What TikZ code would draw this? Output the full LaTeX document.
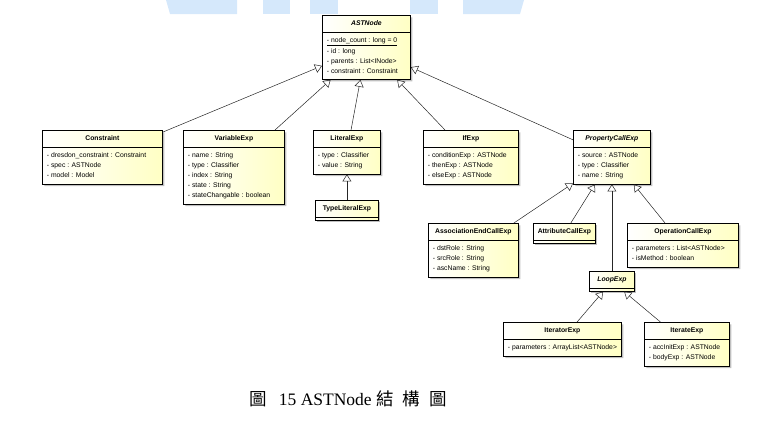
\documentclass[tikz,border=0pt]{standalone}
\usepackage{fontspec}
\setmainfont{Liberation Serif}
\newfontfamily\umlfont{Liberation Sans}
\newfontfamily\cjk{Noto Sans CJK TC}
\usepackage{tikz}
\usetikzlibrary{shapes.multipart, arrows.meta, shadows}
\definecolor{clsfill}{RGB}{255,255,196}
\definecolor{wmblue}{RGB}{213,232,251}
\newcommand\hd[1]{\strut\textbf{#1}}
\newcommand\ahd[1]{\strut\textbf{\textit{#1}}}
\newcommand\fields[1]{\begin{tabular}{@{\hspace{2pt}}l@{}}#1\end{tabular}}
\newcommand\nofields{\rule[-6pt]{0pt}{0pt}}

\begin{document}
\begin{tikzpicture}[x=1pt, y=-1pt,
    cls/.style={rectangle split, rectangle split parts=2, rectangle split part align={center,left},
        draw, line width=0.8pt, anchor=north west, inner xsep=2.5pt, inner ysep=3pt,
        left color=white, right color=clsfill,
        drop shadow={shadow xshift=2pt, shadow yshift=-2pt, fill=black!50, opacity=0.5},
        font=\umlfont\fontsize{6.8}{10}\selectfont},
    clsbare/.style={cls, rectangle split parts=1},
    divider/.style={line width=0.8pt},
    gen/.style={-{Triangle[open, length=7pt, width=9pt]}, line width=0.5pt, draw=black!85}
]
\useasboundingbox (0,0) rectangle (782,424);

\fill[wmblue] (166,0) -- (237,0) -- (237,14) -- (170,14) -- cycle;
\fill[wmblue] (263,0) rectangle (290,14);
\fill[wmblue] (310,0) rectangle (338,14);
\fill[wmblue] (410,0) rectangle (438,14);
\fill[wmblue] (463,0) -- (524,0) -- (520,14) -- (463,14) -- cycle;

\node[cls, minimum width=88pt] (astnode) at (322,15) {\ahd{ASTNode}\nodepart{two}\fields{\underline{- node\_count : long = 0}\\ - id : long\\ - parents : List<INode>\\ - constraint : Constraint}};

\node[cls, minimum width=120pt] (constraint) at (42,130) {\hd{Constraint}\nodepart{two}\fields{- dresdon\_constraint : Constraint\\ - spec : ASTNode\\ - model : Model}};
\node[cls, minimum width=101pt] (variableexp) at (183,130) {\hd{VariableExp}\nodepart{two}\fields{- name : String\\ - type : Classifier\\ - index : String\\ - state : String\\ - stateChangable : boolean}};
\node[cls, minimum width=67pt] (literalexp) at (313,130) {\hd{LiteralExp}\nodepart{two}\fields{- type : Classifier\\ - value : String}};
\node[clsbare, minimum width=63pt] (typeliteralexp) at (315,200) {\hd{TypeLiteralExp}\nofields};
\node[cls, minimum width=95pt] (ifexp) at (423,130) {\hd{IfExp}\nodepart{two}\fields{- conditionExp : ASTNode\\ - thenExp : ASTNode\\ - elseExp : ASTNode}};
\node[cls, minimum width=77pt] (propertycallexp) at (573,130) {\ahd{PropertyCallExp}\nodepart{two}\fields{- source : ASTNode\\ - type : Classifier\\ - name : String}};

\node[cls, minimum width=90pt] (assocendcallexp) at (428,223) {\hd{AssociationEndCallExp}\nodepart{two}\fields{- dstRole : String\\ - srcRole : String\\ - ascName : String}};
\node[clsbare, minimum width=62pt] (attributecallexp) at (533,223) {\hd{AttributeCallExp}\nofields};
\node[cls, minimum width=111pt] (operationcallexp) at (627,223) {\hd{OperationCallExp}\nodepart{two}\fields{- parameters : List<ASTNode>\\ - isMethod : boolean}};
\node[clsbare, minimum width=45pt] (loopexp) at (589,271) {\ahd{LoopExp}\nofields};
\node[cls, minimum width=118pt] (iteratorexp) at (503,322) {\hd{IteratorExp}\nodepart{two}\fields{- parameters : ArrayList<ASTNode>}};
\node[cls, minimum width=85pt] (iterateexp) at (644,322) {\hd{IterateExp}\nodepart{two}\fields{- accInitExp : ASTNode\\ - bodyExp : ASTNode}};

\draw[divider] ([yshift=3pt]typeliteralexp.south west) -- ([yshift=3pt]typeliteralexp.south east);
\draw[divider] ([yshift=3pt]attributecallexp.south west) -- ([yshift=3pt]attributecallexp.south east);
\draw[divider] ([yshift=3pt]loopexp.south west) -- ([yshift=3pt]loopexp.south east);

\draw[gen] (constraint) -- (astnode);
\draw[gen] (variableexp) -- (astnode);
\draw[gen] (literalexp) -- (astnode);
\draw[gen] (ifexp) -- (astnode);
\draw[gen] (propertycallexp) -- (astnode);
\draw[gen] (typeliteralexp) -- (literalexp);
\draw[gen] (assocendcallexp) -- (propertycallexp);
\draw[gen] (attributecallexp) -- (propertycallexp);
\draw[gen] (loopexp) -- (propertycallexp);
\draw[gen] (operationcallexp) -- (propertycallexp);
\draw[gen] (iteratorexp) -- (loopexp);
\draw[gen] (iterateexp) -- (loopexp);

\node[font=\fontsize{17.5}{20}\selectfont] (caption) at (348,399) {{\cjk 圖}\hspace{12pt}15 ASTNode {\cjk 結\hspace{9pt}構\hspace{9pt}圖}};

\end{tikzpicture}
\end{document}
